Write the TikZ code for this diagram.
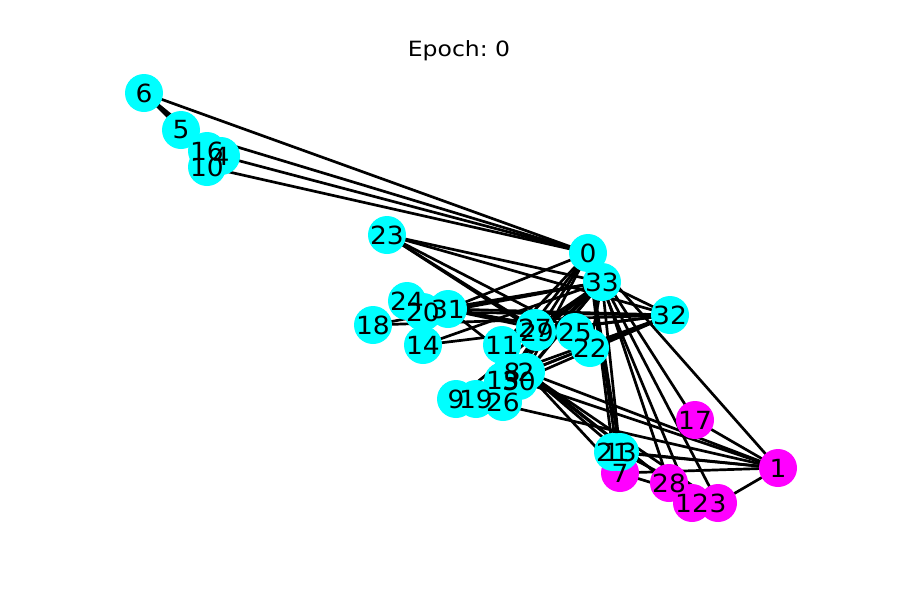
\documentclass[tikz,border=0pt]{standalone}
\usepackage{fontspec}
\usepackage{graphicx}
\setmainfont{DejaVu Sans}
\frenchspacing
\definecolor{clubA}{RGB}{0,255,255}
\definecolor{clubB}{RGB}{255,0,255}
\newcommand{\widetext}[2]{\scalebox{#1}[1]{#2}}
\tikzset{
  member/.style={circle, draw=none, inner sep=0pt, minimum size=38pt},
  memberlabel/.style={inner sep=0pt, text=black, font={\fontsize{25pt}{29pt}\selectfont}},
  tie/.style={draw=black, line width=2.7pt},
}
\begin{document}
\begin{tikzpicture}[x=1pt,y=-1pt]
\useasboundingbox (0,0) rectangle (900,600);
\fill[white] (0,0) rectangle (900,600);

% layout positions of the 34 club members
\foreach \i/\x/\y in {
  0/588/253, 1/778/468, 2/526/372, 3/718/503, 4/221/156, 5/181/130,
  6/144/93, 7/620/473, 8/512/372, 9/456/399, 10/207/167, 11/502/345,
  12/692/503, 13/620/452, 14/423/345, 15/503/381, 16/207/151, 17/695/420,
  18/373/325, 19/476/399, 20/423/312, 21/613/452, 22/590/348, 23/387/235,
  24/407/301, 25/575/332, 26/503/402, 27/535/328, 28/669/483, 29/537/332,
  30/519/381, 31/448/309, 32/670/315, 33/602/282}
  \coordinate (c\i) at (\x,\y);

% friendship ties
\foreach \a/\b in {
  0/1,0/2,0/3,0/4,0/5,0/6,0/7,0/8,0/10,0/11,0/12,0/13,0/17,0/19,0/21,0/31,
  1/2,1/3,1/7,1/13,1/17,1/19,1/21,1/30,
  2/3,2/7,2/8,2/9,2/13,2/27,2/28,2/32,
  3/7,3/12,3/13,
  4/6,4/10,
  5/6,5/10,5/16,
  6/16,
  8/30,8/32,8/33,
  9/33,13/33,14/32,14/33,15/32,15/33,18/32,18/33,19/33,
  20/32,20/33,22/32,22/33,
  23/25,23/27,23/29,23/32,23/33,
  24/25,24/27,24/31,25/31,26/29,26/33,27/33,28/31,28/33,
  29/32,29/33,30/32,30/33,31/32,31/33,32/33}
  \draw[tie] (c\a) -- (c\b);

% member discs, coloured by predicted group
\foreach \i/\col in {
  0/clubA,1/clubB,2/clubA,3/clubB,4/clubA,5/clubA,6/clubA,7/clubB,8/clubA,
  9/clubA,10/clubA,11/clubA,12/clubB,13/clubA,14/clubA,15/clubA,16/clubA,
  17/clubB,18/clubA,19/clubA,20/clubA,21/clubA,22/clubA,23/clubA,24/clubA,
  25/clubA,26/clubA,27/clubA,28/clubB,29/clubA,30/clubA,31/clubA,32/clubA,
  33/clubA}
  \node[member, fill=\col] (n\i) at (c\i) {};

% member numbers
\foreach \i in {0,...,33}
  \node[memberlabel] (l\i) at (n\i) {\widetext{1.06}{\i}};

\node[inner sep=0pt, font={\fontsize{21pt}{25pt}\selectfont}] (title) at (459,51) {\widetext{1.12}{Epoch: 0}};
\end{tikzpicture}
\end{document}
